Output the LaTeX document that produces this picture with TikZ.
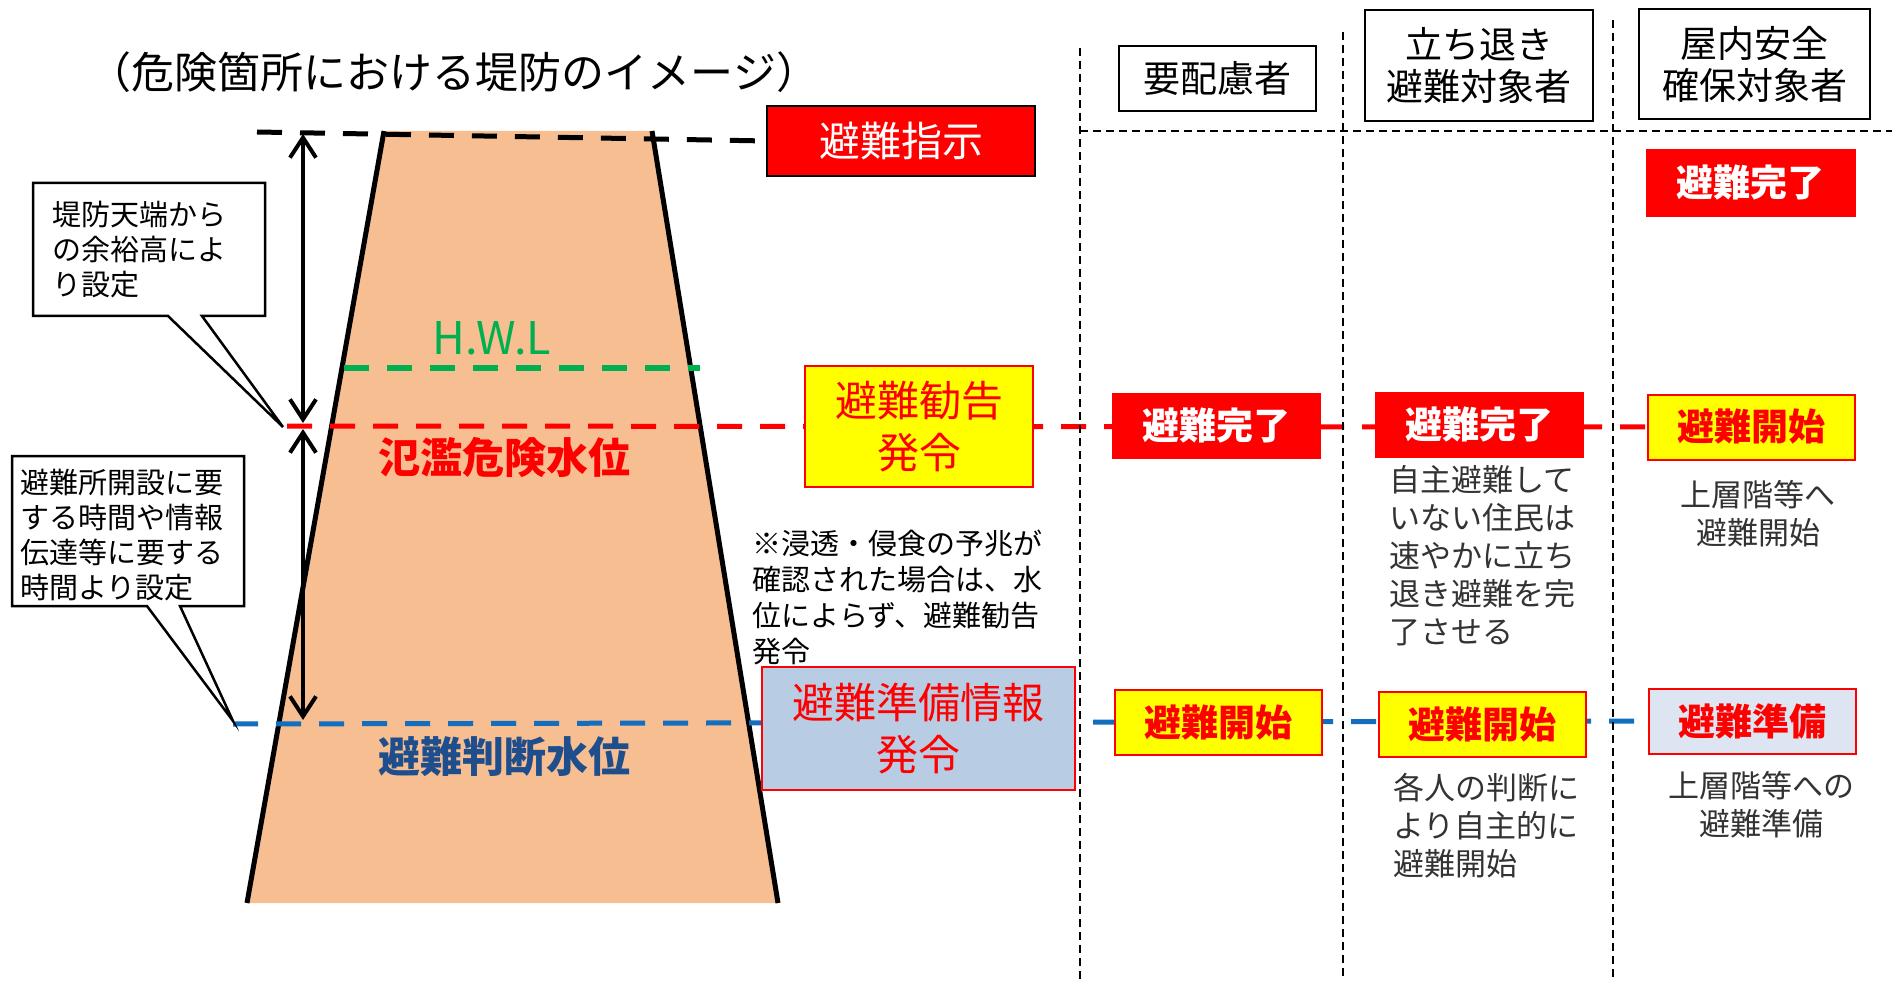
\documentclass[tikz,border=0pt]{standalone}
\usepackage{fontspec}
\setmainfont{Noto Sans CJK JP}
\usetikzlibrary{arrows.meta,backgrounds}
\definecolor{dike}{RGB}{247,190,146}
\definecolor{hwl}{RGB}{0,176,80}
\definecolor{lvred}{RGB}{255,0,0}
\definecolor{lvblue}{RGB}{20,110,190}
\definecolor{txtblue}{RGB}{31,78,140}
\definecolor{prepbox}{RGB}{184,204,228}
\definecolor{prepboxlight}{RGB}{222,229,242}
\definecolor{yel}{RGB}{255,255,0}
\newcommand\myfs[2]{\fontsize{#1}{#2}\selectfont}
\begin{document}
\begin{tikzpicture}[x=1pt,y=-1pt,
  every node/.style={inner sep=0pt, outer sep=0pt},
  lvline/.style={line width=5pt, dash pattern=on 25pt off 18pt},
  griddash/.style={line width=2pt, dash pattern=on 8pt off 5pt},
  callout/.style={draw, line width=2.5pt, fill=white, line join=miter},
  hdrbox/.style={draw, line width=2pt, fill=white, align=center, font=\myfs{37}{42}},
  redbox/.style={fill=lvred, draw=lvred, text=white, font=\bfseries\myfs{37}{42}, minimum width=208pt, minimum height=65pt},
  yelbox/.style={fill=yel, draw=lvred, line width=2pt, text=lvred, font=\bfseries\myfs{37}{42}, minimum width=207pt, minimum height=65pt},
  prepsmall/.style={fill=prepboxlight, draw=lvred, line width=2pt, text=lvred, font=\bfseries\myfs{37}{42}, minimum width=207pt, minimum height=65pt},
  colnote/.style={font=\myfs{31}{38}, text=black!80},
  callnote/.style={font=\myfs{29}{35}, align=left, anchor=west},
  arr/.style={line width=4pt, {Straight Barb[length=20pt,width=26pt]}-{Straight Barb[length=20pt,width=26pt]}},
]
\useasboundingbox (0,0) rectangle (1892,981);

% title
\node[font=\myfs{43}{48}] (title) at (454,72) {（危険箇所における堤防のイメージ）};

% dike corners and level coordinates
\coordinate (dtl) at (384,131);
\coordinate (dtr) at (652,131);
\coordinate (dbr) at (778,903);
\coordinate (dbl) at (247,903);
\coordinate (blkstart) at (257,132);
\coordinate (grnstart) at (344,368);
\coordinate (grnend) at (700,368);
\coordinate (redstart) at (287,426);
\coordinate (bluestart) at (233,724);

% issuance boxes
\node[fill=lvred, draw, line width=2pt, text=white, minimum width=268pt, minimum height=70pt, font=\myfs{41}{46}] (shiji) at (901,141) {避難指示};
\node[fill=yel, draw=lvred, line width=2.5pt, text=lvred, minimum width=228pt, minimum height=121pt, align=center, font=\myfs{42}{52}] (kankoku) at (919,426.5) {避難勧告\\発令};
\node[fill=prepbox, draw=lvred, line width=2.5pt, text=lvred, minimum width=313pt, minimum height=123pt, align=center, font=\myfs{42}{52}] (junbi) at (918.5,728.5) {避難準備情報\\発令};

% column headers
\node[hdrbox, minimum width=197pt, minimum height=65pt] (h1) at (1217.5,78.5) {要配慮者};
\node[hdrbox, minimum width=228pt, minimum height=111pt] (h2) at (1479,65.5) {立ち退き\\避難対象者};
\node[hdrbox, minimum width=231pt, minimum height=110pt] (h3) at (1754.5,64) {屋内安全\\確保対象者};

% column grid
\coordinate (g1t) at (1080,48);  \coordinate (g1b) at (1080,981);
\coordinate (g2t) at (1343,32);  \coordinate (g2b) at (1343,981);
\coordinate (g3t) at (1613,20);  \coordinate (g3b) at (1613,981);
\coordinate (ght) at (1080,131); \coordinate (ghe) at (1892,131);
\draw[griddash] (g1t) -- (g1b);
\draw[griddash] (g2t) -- (g2b);
\draw[griddash] (g3t) -- (g3b);
\draw[griddash] (ght) -- (ghe);

% top row (right column)
\node[redbox, minimum width=209pt, minimum height=67pt] (top3) at (1750.5,182.5) {避難完了};

% red level row
\node[redbox] (r1) at (1216,425.5) {避難完了};
\node[redbox] (r2) at (1479,424.5) {避難完了};
\node[yelbox] (r3) at (1751.5,427) {避難開始};

% blue level row
\node[yelbox] (b1) at (1218.5,722.5) {避難開始};
\node[yelbox] (b2) at (1482.5,724.5) {避難開始};
\node[prepsmall] (b3) at (1752,721) {避難準備};

% column notes
\node[colnote, anchor=west, align=left] (n2r) at (1389,556) {自主避難して\\いない住民は\\速やかに立ち\\退き避難を完\\了させる};
\node[colnote, align=center] (n3r) at (1758,514) {上層階等へ\\避難開始};
\node[colnote, anchor=west, align=left] (n2b) at (1393,826) {各人の判断に\\より自主的に\\避難開始};
\node[colnote, align=center] (n3b) at (1761,805) {上層階等への\\避難準備};

% remark
\node[callnote, font=\myfs{29}{36}] (remark) at (752,597) {※浸透・侵食の予兆が\\確認された場合は、水\\位によらず、避難勧告\\発令};

% dike labels
\node[text=hwl, font=\myfs{45}{48}] (hwllabel) at (492,338) {H.W.L};
\node[text=lvred, font=\bfseries\myfs{42}{46}] (redlabel) at (504,458) {氾濫危険水位};
\node[text=txtblue, font=\bfseries\myfs{42}{46}] (bluelabel) at (504,757) {避難判断水位};

% callouts
\coordinate (tip1) at (283,427);
\coordinate (tip2) at (233,721);
\draw[callout] (33,183) -- (265,183) -- (265,316) -- (202,316) -- (tip1) -- (168,316) -- (33,316) -- cycle;
\draw[callout] (12,456) -- (244,456) -- (244,606) -- (180,606) -- (tip2) -- (147,606) -- (12,606) -- cycle;
\node[callnote] (c1) at (52,250) {堤防天端から\\の余裕高によ\\り設定};
\node[callnote] (c2) at (20,535) {避難所開設に要\\する時間や情報\\伝達等に要する\\時間より設定};

% arrows
\coordinate (a1) at (303,134);
\coordinate (a2) at (303,423);
\coordinate (a3) at (303,429);
\coordinate (a4) at (303,720);
\draw[arr] (a1) -- (a2);
\draw[arr] (a3) -- (a4);

\begin{pgfonlayer}{background}
  \fill[white] (0,0) rectangle (1892,981);
  \fill[dike] (dtl) -- (dtr) -- (dbr) -- (dbl) -- cycle;
  \draw[line width=5pt] (dtl) -- (dbl);
  \draw[line width=5pt] (dtr) -- (dbr);
  \draw[lvline, black] (blkstart) -- (shiji.west);
  \draw[lvline, hwl] (grnstart) -- (grnend);
  \draw[lvline, lvred] (redstart) -- (r3.west);
  \draw[lvline, lvblue] (bluestart) -- (b3.west);
\end{pgfonlayer}
\end{tikzpicture}
\end{document}
